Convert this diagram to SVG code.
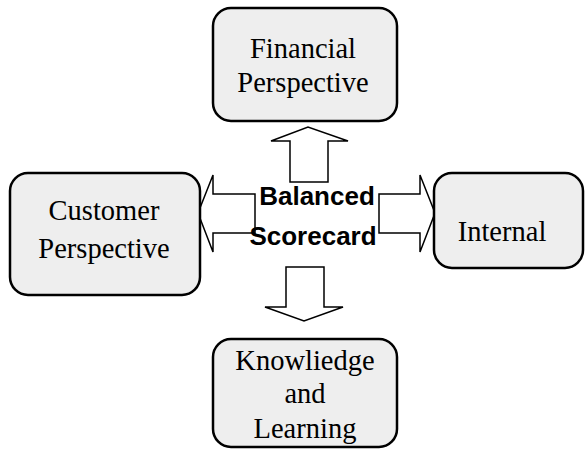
<svg xmlns="http://www.w3.org/2000/svg" width="586" height="451" viewBox="0 0 586 451">
<style>
.box{fill:#eeeeee;stroke:#000;stroke-width:2.5}
.lbl{font-family:"Liberation Serif",serif;font-size:28.5px;fill:#000;text-anchor:middle}
.arr{fill:#fff;stroke:#000;stroke-width:1.5;stroke-linejoin:miter}
.ctr{font-family:"Liberation Sans",Arial,sans-serif;font-weight:bold;font-size:26px;fill:#000;text-anchor:middle}
</style>
<rect width="586" height="451" fill="#fff"/>
<g id="connectors">
<polygon class="arr" points="290,182 290,141 271,141 308,127 348,141 328,141 328,182"/>
<polygon class="arr" points="255,194 213,194 213,175 198,213 213,252 213,233 255,233"/>
<polygon class="arr" points="379,194 420,194 420,175 435,213 420,252 420,233 379,233"/>
<polygon class="arr" points="286,267 286,307 265,307 304,321 343,307 324,307 324,267"/>
</g>
<g id="center">
<text class="ctr" x="317" y="205">Balanced</text>
<text class="ctr" x="313" y="245">Scorecard</text>
</g>
<g id="financial">
<rect class="box" x="213" y="8" width="184" height="113" rx="18"/>
<text class="lbl" x="303" y="58">Financial</text>
<text class="lbl" x="303" y="92">Perspective</text>
</g>
<g id="customer">
<rect class="box" x="10" y="173" width="190" height="122" rx="18"/>
<text class="lbl" x="104" y="220">Customer</text>
<text class="lbl" x="104" y="258">Perspective</text>
</g>
<g id="internal">
<rect class="box" x="434" y="173" width="149" height="95" rx="18"/>
<text class="lbl" x="502" y="241">Internal</text>
</g>
<g id="knowledge">
<rect class="box" x="213" y="339" width="184" height="108" rx="18"/>
<text class="lbl" x="305" y="370">Knowliedge</text>
<text class="lbl" x="305" y="403">and</text>
<text class="lbl" x="305" y="438">Learning</text>
</g>
</svg>
